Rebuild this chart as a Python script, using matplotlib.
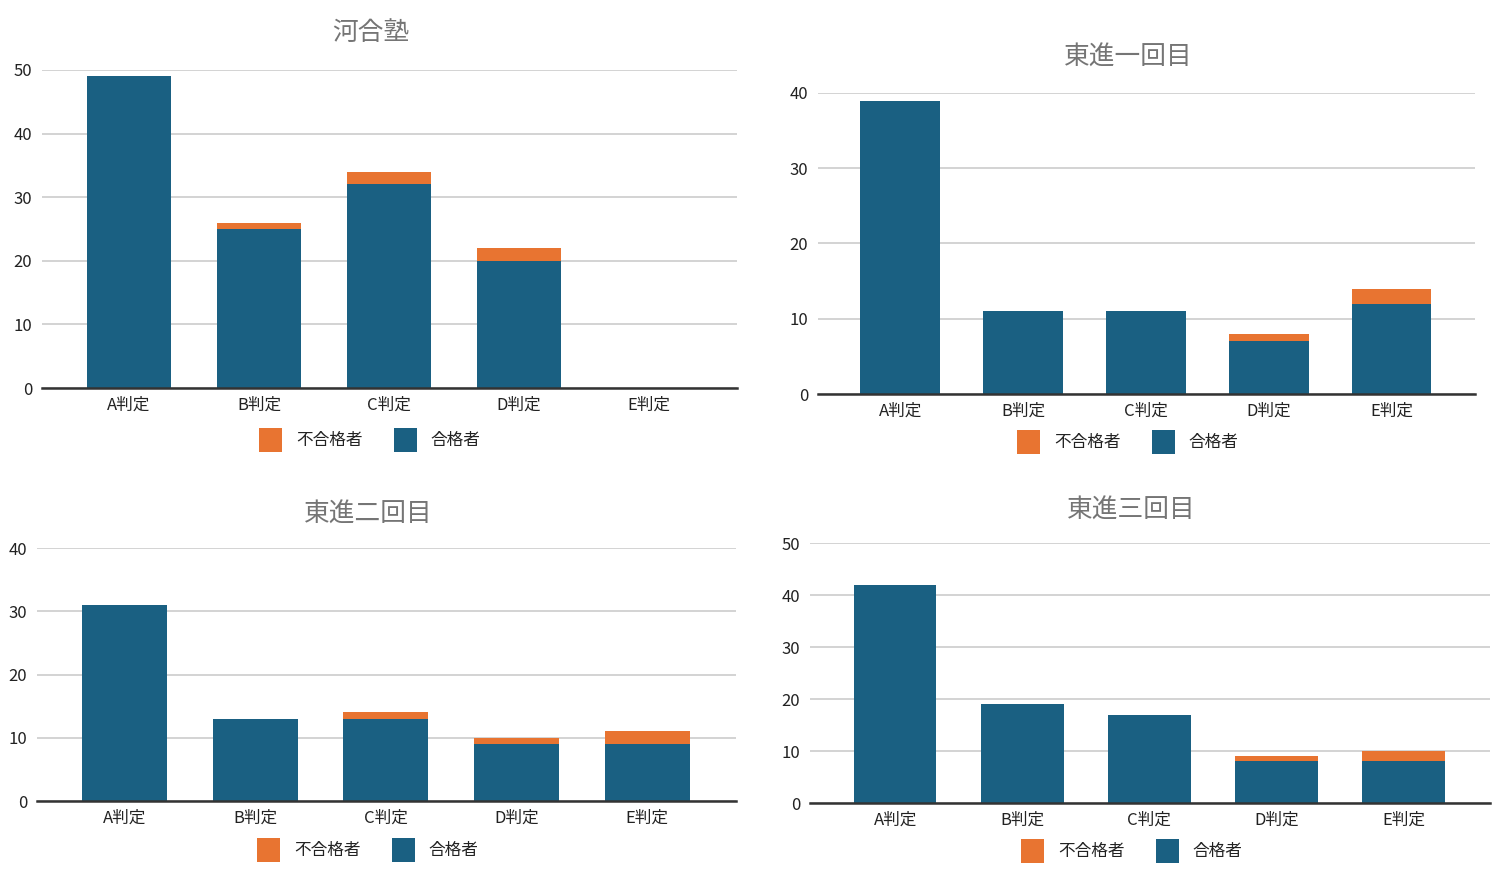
import matplotlib
matplotlib.use("Agg")
import matplotlib.pyplot as plt
from matplotlib.patches import Patch

plt.rcParams['font.family'] = ['Noto Sans CJK JP', 'DejaVu Sans']

categories = ["A判定", "B判定", "C判定", "D判定", "E判定"]
titles = ["河合塾", "東進一回目", "東進二回目", "東進三回目"]
passed = [
    [49, 25, 32, 20, 0],
    [39, 11, 11, 7, 12],
    [31, 13, 13, 9, 9],
    [42, 19, 17, 8, 8],
]
failed = [
    [0, 1, 2, 2, 0],
    [0, 0, 0, 1, 2],
    [0, 0, 1, 1, 2],
    [0, 0, 0, 1, 2],
]
ymax = [50, 40, 40, 50]
label_fail = "不合格者"
label_pass = "合格者"

BLUE = "#1a6082"
ORANGE = "#e87431"
W, H = 1497, 880

fig = plt.figure(figsize=(W / 100, H / 100), dpi=100)

# pixel boxes: left, right, top(y of max), bottom(y of 0)
boxes = [(42, 737, 70, 388), (818, 1475, 93, 394), (37, 736, 548, 801), (810, 1490, 543, 803)]
title_pos = [(371, 33), (1128, 58), (368, 515), (1131, 511)]
legend_pos = [(370, 440), (1128, 442), (368, 850), (1132, 851)]

for i in range(4):
    l, r, t, b = boxes[i]
    ax = fig.add_axes([l / W, 1 - b / H, (r - l) / W, (b - t) / H])
    x = list(range(len(categories)))
    ax.bar(x, passed[i], width=0.65, color=BLUE, zorder=3)
    ax.bar(x, failed[i], width=0.65, bottom=passed[i], color=ORANGE, zorder=3)
    ax.set_xlim(-0.67, 4.68)
    ax.set_ylim(0, ymax[i])
    ax.set_yticks(range(0, ymax[i] + 1, 10))
    ax.set_xticks(x)
    ax.set_xticklabels(categories)
    ax.grid(axis='y', color='#cccccc', linewidth=1.2, zorder=0)
    for s in ['top', 'right', 'left']:
        ax.spines[s].set_visible(False)
    ax.spines['bottom'].set_color('#333333')
    ax.spines['bottom'].set_linewidth(1.8)
    ax.spines['bottom'].set_zorder(4)
    ax.tick_params(axis='both', length=0, labelsize=12, colors='#222222')
    ax.tick_params(axis='y', pad=7)
    ax.tick_params(axis='x', pad=6.5)
    tx, ty = title_pos[i]
    fig.text(tx / W, 1 - ty / H, titles[i], ha='center', va='center',
             fontsize=18.5, color='#757575')
    lx, ly = legend_pos[i]
    handles = [Patch(facecolor=ORANGE, label=label_fail), Patch(facecolor=BLUE, label=label_pass)]
    fig.legend(handles=handles, loc='center', bbox_to_anchor=(lx / W, 1 - ly / H),
               ncol=2, frameon=False, fontsize=12, handlelength=1.35, handleheight=1.75,
               handletextpad=0.85, columnspacing=1.9, labelcolor='#222222')

fig.savefig("out.png", dpi=100, facecolor='white')
